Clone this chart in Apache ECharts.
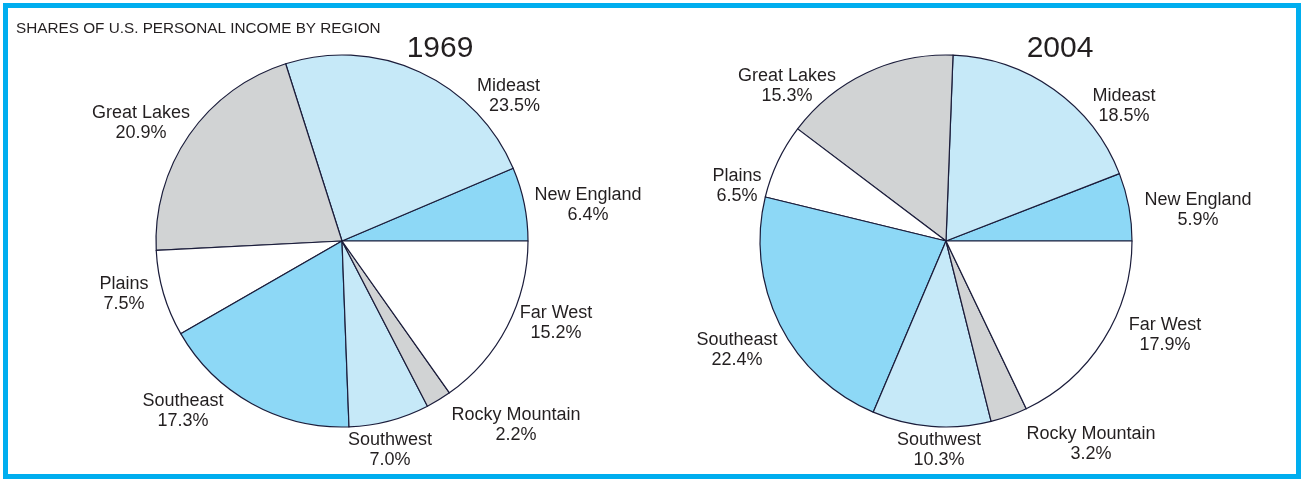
<!DOCTYPE html>
<html>
<head>
<meta charset="utf-8">
<script src="https://cdn.jsdelivr.net/npm/echarts@6/dist/echarts.min.js"></script>
<style>
html,body{margin:0;padding:0;background:#fff;}
#wrap{position:relative;width:1302px;height:479px;overflow:hidden;}
#chart{position:absolute;left:0;top:0;width:1302px;height:479px;}
#frame{position:absolute;left:3px;top:3px;right:1px;bottom:0;border:5px solid #00aeef;pointer-events:none;}
</style>
</head>
<body>
<div id="wrap"><div id="chart"></div><div id="frame"></div></div>
<script>
// ---- data ----
const regions = ['New England','Mideast','Great Lakes','Plains','Southeast','Southwest','Rocky Mountain','Far West'];
const shares1969 = [6.4, 23.5, 20.9, 7.5, 17.3, 7.0, 2.2, 15.2];
const shares2004 = [5.9, 18.5, 15.3, 6.5, 22.4, 10.3, 3.2, 17.9];
const years = ['1969', '2004'];
const chartTitle = 'SHARES OF U.S. PERSONAL INCOME BY REGION';

// ---- styling / layout ----
const sliceColors = ['#8dd8f6','#c6e9f8','#d1d3d4','#ffffff','#8dd8f6','#c6e9f8','#d1d3d4','#ffffff'];
const labelPos1969 = [[588,205,'center'],[540,96,'right'],[141,123,'center'],[124,294,'center'],[183,411,'center'],[390,450,'center'],[516,425,'center'],[556,323,'center']];
const labelPos2004 = [[1198,210,'center'],[1124,106,'center'],[787,86,'center'],[737,186,'center'],[737,350,'center'],[939,450,'center'],[1091,444,'center'],[1165,335,'center']];
const textColor = '#231f20';
const font = 'Liberation Sans, Arial, Helvetica, sans-serif';

function makeSeries(values, center, pos) {
  return {
    type: 'pie',
    center: center,
    radius: 186,
    startAngle: 0,
    clockwise: false,
    silent: true,
    avoidLabelOverlap: false,
    data: regions.map((r, i) => ({
      name: r, value: values[i],
      itemStyle: { color: sliceColors[i] }
    })),
    itemStyle: { borderColor: '#1b1d3b', borderWidth: 1.2 },
    label: {
      show: true,
      position: 'outside',
      formatter: p => p.name + '\n' + p.value.toFixed(1) + '%',
      color: textColor,
      fontFamily: font,
      fontSize: 18,
      lineHeight: 20
    },
    labelLine: { show: false },
    labelLayout: params => {
      const q = pos[params.dataIndex];
      return { x: q[0], y: q[1], align: q[2], verticalAlign: 'middle' };
    },
    emphasis: { disabled: true }
  };
}

const chart = echarts.init(document.getElementById('chart'), null, { renderer: 'canvas' });
chart.setOption({
  animation: false,
  backgroundColor: '#ffffff',
  title: [
    { text: chartTitle, left: 11, top: 16, textStyle: { fontFamily: font, fontSize: 15.3, fontWeight: 'normal', color: textColor } },
    { text: years[0], left: 435, top: 29, textAlign: 'center', textStyle: { fontFamily: font, fontSize: 30, fontWeight: 'normal', color: textColor } },
    { text: years[1], left: 1055, top: 29, textAlign: 'center', textStyle: { fontFamily: font, fontSize: 30, fontWeight: 'normal', color: textColor } }
  ],
  series: [
    makeSeries(shares1969, [342, 241], labelPos1969),
    makeSeries(shares2004, [946, 241], labelPos2004)
  ]
});
</script>
</body>
</html>
